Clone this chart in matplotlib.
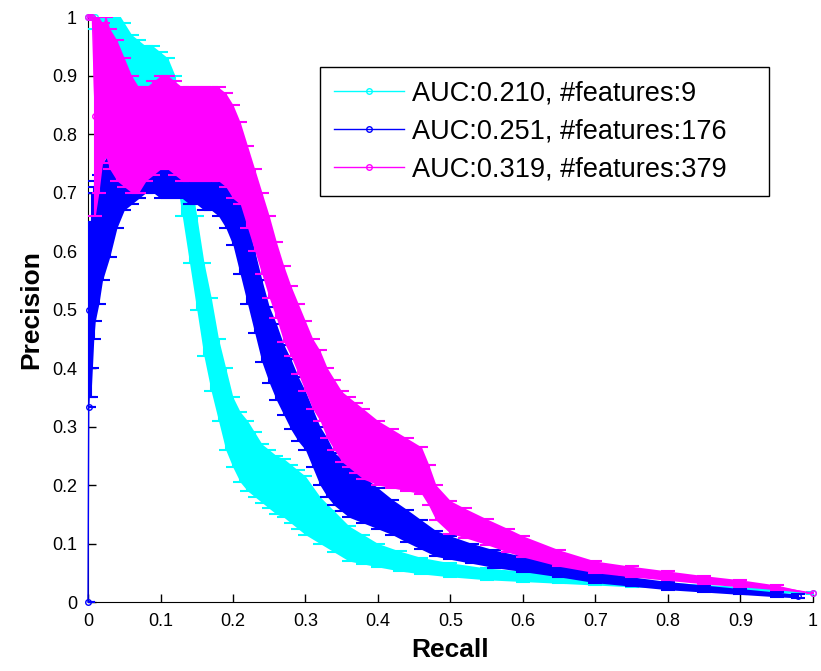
import matplotlib
matplotlib.use('Agg')
import matplotlib.pyplot as plt
import numpy as np

plt.rcParams['font.family'] = ['Liberation Sans', 'DejaVu Sans']

# AUC:0.210, #features:9
recall_9 = [0.0, 0.005, 0.01, 0.02, 0.03, 0.04, 0.05, 0.06, 0.07, 0.08, 0.09, 0.10,
            0.11, 0.12, 0.13, 0.14, 0.15, 0.16, 0.17, 0.18, 0.19, 0.20, 0.21, 0.22,
            0.23, 0.24, 0.25, 0.26, 0.27, 0.28, 0.29, 0.30, 0.32, 0.34, 0.36, 0.38,
            0.40, 0.43, 0.46, 0.50, 0.55, 0.60, 0.65, 0.70, 0.75, 0.80, 0.85, 0.90,
            0.95, 1.00]
prec_9 = [1.0, 1.0, 1.0, 0.97, 0.95, 0.94, 0.92, 0.90, 0.89, 0.88, 0.88, 0.87,
          0.86, 0.82, 0.74, 0.66, 0.58, 0.50, 0.44, 0.38, 0.33, 0.29, 0.265, 0.25,
          0.235, 0.22, 0.21, 0.20, 0.195, 0.185, 0.175, 0.165, 0.14, 0.12, 0.10, 0.09,
          0.08, 0.07, 0.062, 0.055, 0.048, 0.044, 0.040, 0.036, 0.032, 0.029, 0.026, 0.023,
          0.019, 0.015]
err_9 = [0.0, 0.0, 0.02, 0.05, 0.06, 0.07, 0.07, 0.07, 0.07, 0.07, 0.07, 0.07,
         0.07, 0.08, 0.08, 0.08, 0.08, 0.08, 0.08, 0.07, 0.07, 0.06, 0.06, 0.06,
         0.055, 0.05, 0.05, 0.05, 0.05, 0.05, 0.05, 0.05, 0.04, 0.035, 0.03, 0.025,
         0.02, 0.017, 0.014, 0.012, 0.010, 0.009, 0.008, 0.007, 0.006, 0.005, 0.004, 0.004,
         0.003, 0.002]

# AUC:0.251, #features:176
recall_176 = [0.0, 0.001, 0.002, 0.004, 0.006, 0.008, 0.01, 0.015, 0.02, 0.03, 0.04, 0.05,
              0.06, 0.07, 0.08, 0.09, 0.10, 0.11, 0.12, 0.13, 0.14, 0.15, 0.16, 0.17,
              0.18, 0.19, 0.20, 0.21, 0.22, 0.23, 0.24, 0.25, 0.26, 0.27, 0.28, 0.29,
              0.30, 0.31, 0.32, 0.33, 0.34, 0.35, 0.36, 0.38, 0.40, 0.42, 0.44, 0.46,
              0.48, 0.50, 0.53, 0.56, 0.60, 0.65, 0.70, 0.75, 0.80, 0.85, 0.90, 0.95, 0.98]
prec_176 = [0.0, 0.333, 0.5, 0.5, 0.55, 0.58, 0.60, 0.62, 0.65, 0.68, 0.72, 0.74,
            0.75, 0.76, 0.77, 0.77, 0.76, 0.76, 0.76, 0.76, 0.75, 0.75, 0.74, 0.74,
            0.73, 0.71, 0.68, 0.63, 0.58, 0.53, 0.48, 0.44, 0.41, 0.38, 0.355, 0.33,
            0.31, 0.28, 0.25, 0.23, 0.21, 0.20, 0.19, 0.175, 0.16, 0.145, 0.13, 0.115,
            0.10, 0.093, 0.083, 0.074, 0.065, 0.055, 0.043, 0.035, 0.028, 0.023, 0.018, 0.013, 0.010]
err_176 = [0.0, 0.0, 0.15, 0.15, 0.15, 0.13, 0.12, 0.11, 0.10, 0.09, 0.08, 0.07,
           0.07, 0.07, 0.07, 0.07, 0.07, 0.07, 0.07, 0.07, 0.07, 0.07, 0.07, 0.07,
           0.07, 0.07, 0.07, 0.07, 0.07, 0.07, 0.07, 0.065, 0.065, 0.06, 0.06, 0.055,
           0.05, 0.05, 0.05, 0.05, 0.045, 0.045, 0.045, 0.04, 0.035, 0.03, 0.028, 0.025,
           0.022, 0.02, 0.017, 0.015, 0.013, 0.012, 0.010, 0.008, 0.007, 0.006, 0.005, 0.004, 0.003]

# AUC:0.319, #features:379
recall_379 = [0.0, 0.003, 0.006, 0.01, 0.015, 0.02, 0.025, 0.03, 0.04, 0.05, 0.06, 0.07,
              0.08, 0.09, 0.10, 0.11, 0.12, 0.13, 0.14, 0.15, 0.16, 0.17, 0.18, 0.19,
              0.20, 0.21, 0.22, 0.23, 0.24, 0.25, 0.26, 0.27, 0.28, 0.29, 0.30, 0.31,
              0.32, 0.33, 0.34, 0.35, 0.36, 0.37, 0.38, 0.40, 0.42, 0.44, 0.46, 0.47,
              0.48, 0.50, 0.52, 0.55, 0.58, 0.60, 0.65, 0.70, 0.75, 0.80, 0.85, 0.90,
              0.95, 1.00]
prec_379 = [1.0, 1.0, 1.0, 0.83, 0.85, 0.87, 0.88, 0.86, 0.84, 0.82, 0.80, 0.79,
            0.80, 0.81, 0.82, 0.82, 0.81, 0.80, 0.80, 0.80, 0.80, 0.80, 0.80, 0.79,
            0.77, 0.75, 0.71, 0.67, 0.63, 0.59, 0.55, 0.51, 0.48, 0.45, 0.42, 0.39,
            0.37, 0.34, 0.32, 0.30, 0.29, 0.28, 0.27, 0.255, 0.245, 0.235, 0.225, 0.20,
            0.17, 0.145, 0.135, 0.12, 0.105, 0.095, 0.075, 0.060, 0.052, 0.045, 0.038, 0.032,
            0.025, 0.015]
err_379 = [0.0, 0.0, 0.0, 0.17, 0.15, 0.12, 0.12, 0.12, 0.12, 0.11, 0.10, 0.09,
           0.08, 0.08, 0.08, 0.08, 0.08, 0.08, 0.08, 0.08, 0.08, 0.08, 0.08, 0.08,
           0.08, 0.07, 0.07, 0.07, 0.07, 0.07, 0.065, 0.065, 0.06, 0.06, 0.06, 0.06,
           0.06, 0.06, 0.06, 0.06, 0.06, 0.06, 0.06, 0.055, 0.05, 0.045, 0.04, 0.035,
           0.03, 0.028, 0.025, 0.022, 0.02, 0.018, 0.014, 0.010, 0.009, 0.008, 0.007, 0.006,
           0.004, 0.0]

series = [
    (recall_9, prec_9, err_9, '#00ffff', 'AUC:0.210, #features:9'),
    (recall_176, prec_176, err_176, '#0000ff', 'AUC:0.251, #features:176'),
    (recall_379, prec_379, err_379, '#ff00ff', 'AUC:0.319, #features:379'),
]

fig = plt.figure(figsize=(8.21, 6.71), dpi=100)
ax = fig.add_axes([0.1072, 0.1028, 0.883, 0.8718])

for i, (r, p, e, col, lab) in enumerate(series):
    r = np.array(r)
    p = np.array(p)
    e = np.array(e)
    z = 2 + 3 * i
    # the bars sit so close together that they merge into a band
    ax.fill_between(r, p - e, p + e, color=col, linewidth=0, zorder=z)
    ax.errorbar(r, p, yerr=e, fmt='none', ecolor=col, elinewidth=1.5,
                capsize=5, capthick=1.5, zorder=z + 1)
    ax.plot(r, p, '-o', color=col, markersize=4, markerfacecolor='none',
            linewidth=1, label=lab, clip_on=False, zorder=z + 2)

ax.set_xlim(0, 1)
ax.set_ylim(0, 1)
ax.set_xticks(np.arange(0, 1.01, 0.1))
ax.set_yticks(np.arange(0, 1.01, 0.1))
ax.set_xticklabels(['0', '0.1', '0.2', '0.3', '0.4', '0.5', '0.6', '0.7', '0.8', '0.9', '1'])
ax.set_yticklabels(['0', '0.1', '0.2', '0.3', '0.4', '0.5', '0.6', '0.7', '0.8', '0.9', '1'])
ax.tick_params(direction='in', length=6, width=1, labelsize=13, pad=8)
ax.spines['top'].set_visible(False)
ax.spines['right'].set_visible(False)

ax.set_xlabel('Recall', fontsize=19, fontweight='bold', labelpad=6)
ax.set_ylabel('Precision', fontsize=19, fontweight='bold', labelpad=6)

leg = ax.legend(loc='upper left', bbox_to_anchor=(0.32, 0.696, 0.62, 0.219),
                mode='expand', borderaxespad=0,
                fontsize=19.5, handlelength=2.6, handletextpad=0.3, labelspacing=0.45,
                borderpad=0.5, fancybox=False, framealpha=1, edgecolor='black')
leg.get_frame().set_linewidth(1)
leg.set_zorder(20)

plt.savefig('out.png', dpi=100)
plt.close()
